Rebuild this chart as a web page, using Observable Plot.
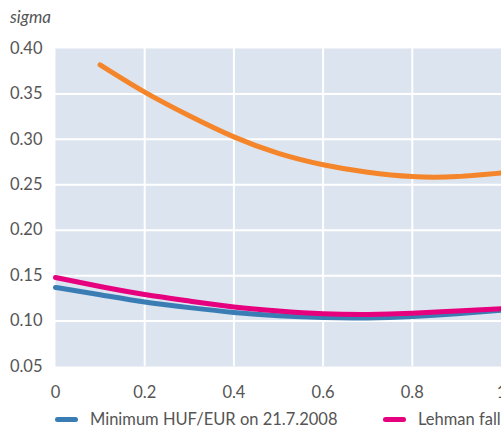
<!DOCTYPE html>
<html>
<head>
<meta charset="utf-8">
<script src="https://cdn.jsdelivr.net/npm/d3@7"></script>
<script src="https://cdn.jsdelivr.net/npm/@observablehq/plot@0.6"></script>
<style>
  html, body { margin: 0; padding: 0; background: #fff; }
  body { width: 501px; height: 428px; overflow: hidden; font-family: Lato, "Open Sans", sans-serif; color: #555; }
  #wrap { position: relative; width: 501px; }
  #ylabel { position: absolute; left: 10px; top: 6px; font-style: italic; font-size: 17px; color: #555; }
  #legend { position: absolute; left: 0; top: 409px; width: 501px; height: 20px; white-space: nowrap; font-size: 16.5px; color: #555; }
  .item { position: absolute; top: 0; display: flex; align-items: center; height: 20px; }
  .sw { display: inline-block; width: 23px; height: 5px; border-radius: 3px; margin-right: 12px; }
</style>
</head>
<body>
<div id="wrap">
  <div id="chart"></div>
  <div id="ylabel">sigma</div>
  <div id="legend"></div>
</div>
<script>
const xs = [0, 0.1, 0.2, 0.3, 0.4, 0.5, 0.6, 0.7, 0.8, 0.9, 1.0];
const minHuf = [0.137, 0.129, 0.121, 0.1148, 0.1095, 0.1058, 0.1038, 0.1035, 0.105, 0.108, 0.112];
const lehman = [0.148, 0.138, 0.1292, 0.122, 0.1155, 0.111, 0.108, 0.1072, 0.1085, 0.1112, 0.1135];
const xsOrange = [0.1, 0.2, 0.3, 0.4, 0.5, 0.6, 0.7, 0.8, 0.9, 1.0];
const orangeVals = [0.382, 0.352, 0.326, 0.3027, 0.2845, 0.272, 0.2637, 0.259, 0.259, 0.263];
const seriesNames = ["Minimum HUF/EUR on 21.7.2008", "Lehman fall"];
const colors = ["#3a7db5", "#e6007e", "#f5852a"];
const xTicks = [0, 0.2, 0.4, 0.6, 0.8, 1];
const yTicks = [0.05, 0.10, 0.15, 0.20, 0.25, 0.30, 0.35, 0.40];

const blueData = xs.map((x, i) => ({x, y: minHuf[i]}));
const pinkData = xs.map((x, i) => ({x, y: lehman[i]}));
const orangeData = xsOrange.map((x, i) => ({x, y: orangeVals[i]}));

const lineOpts = {x: "x", y: "y", strokeWidth: 5, curve: "natural", strokeLinecap: "round"};

const chart = Plot.plot({
  width: 501,
  height: 408,
  marginTop: 48,
  marginBottom: 42,
  marginLeft: 55,
  marginRight: 0,
  style: {fontFamily: "Lato, 'Open Sans', sans-serif", fontSize: "16.5px", color: "#555", background: "white"},
  x: {domain: [0, 1]},
  y: {domain: [0.05, 0.40]},
  marks: [
    Plot.frame({fill: "#dbe4ef", stroke: null}),
    Plot.gridX(xTicks.slice(1, -1), {stroke: "white", strokeOpacity: 1, strokeWidth: 2}),
    Plot.gridY(yTicks.slice(1, -1), {stroke: "white", strokeOpacity: 1, strokeWidth: 2}),
    Plot.axisX({ticks: xTicks, tickSize: 0, tickPadding: 20, tickFormat: d3.format("~g"), label: null}),
    Plot.axisY({ticks: yTicks, tickSize: 0, tickPadding: 13, tickFormat: d3.format(".2f"), label: null}),
    Plot.line(orangeData, {...lineOpts, stroke: colors[2]}),
    Plot.line(blueData, {...lineOpts, stroke: colors[0]}),
    Plot.line(pinkData, {...lineOpts, stroke: colors[1]})
  ]
});
document.getElementById("chart").appendChild(chart);

const legend = document.getElementById("legend");
const lefts = [55, 383];
seriesNames.forEach((name, i) => {
  const item = document.createElement("div");
  item.className = "item";
  item.style.left = lefts[i] + "px";
  const sw = document.createElement("span");
  sw.className = "sw";
  sw.style.background = colors[i];
  const t = document.createElement("span");
  t.textContent = name;
  item.appendChild(sw);
  item.appendChild(t);
  legend.appendChild(item);
});
</script>
</body>
</html>
